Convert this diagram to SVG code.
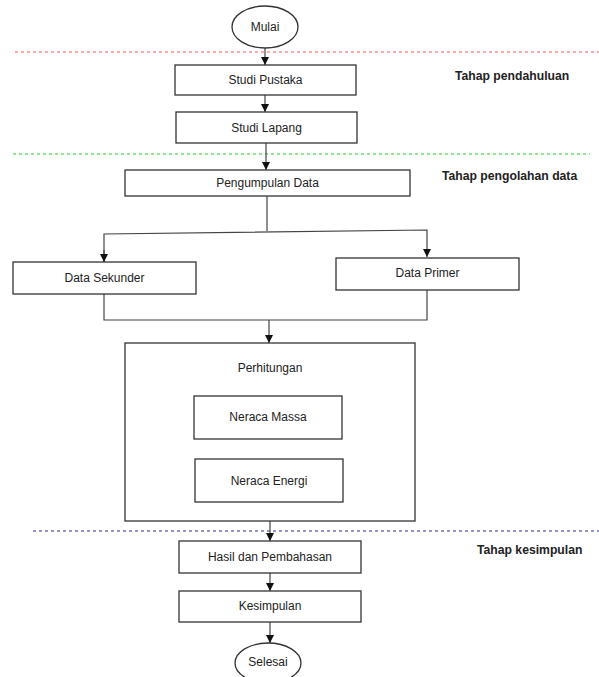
<svg xmlns="http://www.w3.org/2000/svg" width="599" height="677" viewBox="0 0 599 677">
<style>
.box{fill:#fff;stroke:#333;stroke-width:1.3}
.t{font-family:"Liberation Sans",Arial,sans-serif;font-size:12px;fill:#222;text-anchor:middle}
.lbl{font-family:"Liberation Sans",Arial,sans-serif;font-size:12.2px;font-weight:bold;fill:#222}
.c{fill:none;stroke:#444;stroke-width:1.2}
</style>
<defs>
<marker id="ah" viewBox="0 0 10 10" refX="10" refY="5" markerWidth="8" markerHeight="8" markerUnits="userSpaceOnUse" orient="auto">
<path d="M0,0 L10,5 L0,10 z" fill="#111"/>
</marker>
</defs>
<rect width="599" height="677" fill="#fff"/>
<g id="separators">
<line x1="15" y1="52" x2="599" y2="52" stroke="#ff5555" stroke-width="1" stroke-dasharray="3,3"/>
<line x1="13" y1="154" x2="590" y2="154" stroke="#22cc22" stroke-width="1" stroke-dasharray="3,3"/>
<line x1="33" y1="531" x2="599" y2="531" stroke="#2a2aa8" stroke-width="1" stroke-dasharray="3,3"/>
</g>
<g id="labels">
<text class="lbl" x="455" y="80">Tahap pendahuluan</text>
<text class="lbl" x="442" y="180">Tahap pengolahan data</text>
<text class="lbl" x="477" y="554">Tahap kesimpulan</text>
</g>
<g id="connectors">
<path class="c" d="M265,48 V65" marker-end="url(#ah)"/>
<path class="c" d="M265,95 V112" marker-end="url(#ah)"/>
<path class="c" d="M266,143 V170" marker-end="url(#ah)"/>
<path class="c" d="M267,196 V231"/>
<path class="c" d="M104,262 V234 L427,230 V257" marker-end="url(#ah)"/>
<path class="c" d="M104,250 V262" marker-end="url(#ah)"/>
<path class="c" d="M104,294 V320 H427 V290"/>
<path class="c" d="M269,320 V343" marker-end="url(#ah)"/>
<path class="c" d="M270,521 V541" marker-end="url(#ah)"/>
<path class="c" d="M270,573 V591" marker-end="url(#ah)"/>
<path class="c" d="M270,622 V643" marker-end="url(#ah)"/>
</g>
<g id="mulai">
<ellipse class="box" cx="265" cy="27" rx="33" ry="21"/>
<text class="t" x="265" y="31">Mulai</text>
</g>
<g id="studi-pustaka">
<rect class="box" x="175" y="65" width="181" height="30"/>
<text class="t" x="265.5" y="84">Studi Pustaka</text>
</g>
<g id="studi-lapang">
<rect class="box" x="176" y="112" width="181" height="31"/>
<text class="t" x="266.5" y="132">Studi Lapang</text>
</g>
<g id="pengumpulan-data">
<rect class="box" x="125" y="170" width="285" height="26"/>
<text class="t" x="267.5" y="187">Pengumpulan Data</text>
</g>
<g id="data-sekunder">
<rect class="box" x="13" y="262" width="183" height="32"/>
<text class="t" x="104.5" y="282">Data Sekunder</text>
</g>
<g id="data-primer">
<rect class="box" x="336" y="258" width="183" height="32"/>
<text class="t" x="427.5" y="277">Data Primer</text>
</g>
<g id="perhitungan">
<rect class="box" x="125" y="343" width="290" height="178"/>
<text class="t" x="270" y="372">Perhitungan</text>
</g>
<g id="neraca-massa">
<rect class="box" x="194" y="396" width="148" height="43"/>
<text class="t" x="268" y="421">Neraca Massa</text>
</g>
<g id="neraca-energi">
<rect class="box" x="195" y="459" width="148" height="43"/>
<text class="t" x="269" y="485">Neraca Energi</text>
</g>
<g id="hasil">
<rect class="box" x="179" y="541" width="182" height="32"/>
<text class="t" x="270" y="561">Hasil dan Pembahasan</text>
</g>
<g id="kesimpulan">
<rect class="box" x="179" y="591" width="182" height="31"/>
<text class="t" x="270" y="610">Kesimpulan</text>
</g>
<g id="selesai">
<ellipse class="box" cx="268" cy="663" rx="33" ry="20"/>
<text class="t" x="268" y="666">Selesai</text>
</g>
</svg>
